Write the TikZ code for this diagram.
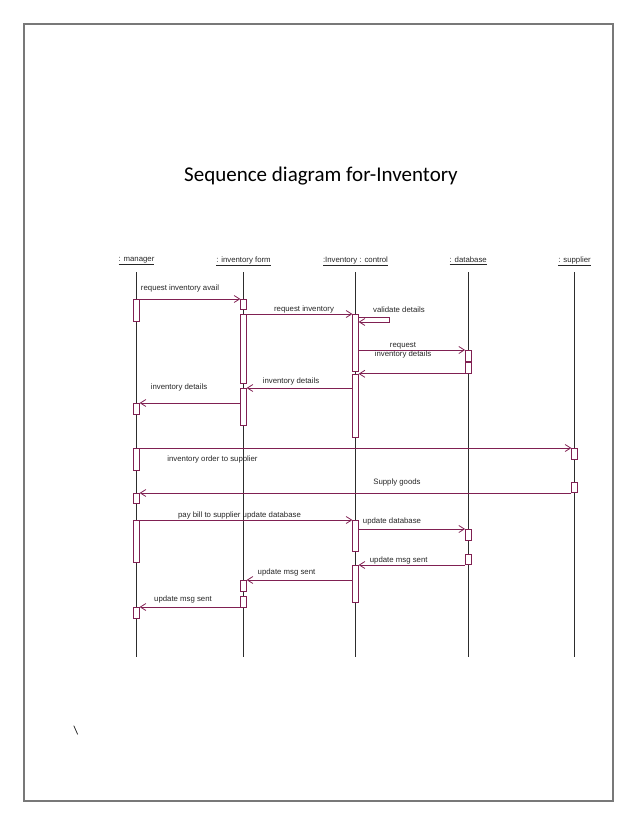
\documentclass[tikz,border=0pt]{standalone}
\usepackage{fontspec}
\setmainfont{Carlito}
\newfontfamily\arialf{Liberation Sans}
\usetikzlibrary{arrows.meta}
\definecolor{maroon}{RGB}{128,32,82}
\definecolor{lifegray}{RGB}{45,45,45}
\definecolor{framegray}{RGB}{120,120,120}
\begin{document}
\begin{tikzpicture}[x=1pt,y=-1pt,
  actbox/.style={draw=maroon,fill=white,line width=0.8pt,minimum width=5.5pt,inner sep=0pt,anchor=north},
  msg/.style={draw=maroon,line width=0.8pt,-{Straight Barb[length=5.5pt,width=7pt]}},
  life/.style={draw=lifegray,line width=0.8pt},
  lbl/.style={inner sep=0pt,text=black!85,font=\arialf\fontsize{7.8}{9}\selectfont,align=center},
  hdr/.style={inner sep=0pt,text=black!85,font=\arialf\fontsize{7.8}{9}\selectfont}]
\useasboundingbox (0,0) rectangle (638,826);
\draw[framegray,line width=1.2pt] (24,24) rectangle (613,801);
\node[font=\fontsize{21}{25}\selectfont] (title) at (321,176) {Sequence diagram for-Inventory};
\node[font=\fontsize{12}{14}\selectfont] (bs) at (76,731) {\textbackslash};
% headers
\node[hdr] (hm) at (136.5,261) {\underline{: manager}};
\node[hdr] (hf) at (243.5,261) {\underline{: inventory form}};
\node[hdr] (hc) at (355.5,261) {\underline{:Inventory : control}};
\node[hdr] (hd) at (468.2,261) {\underline{: database}};
\node[hdr] (hs) at (574.5,261) {\underline{: supplier}};
% lifelines
\coordinate (tm) at (136.5,272); \coordinate (bm) at (136.5,657);
\coordinate (tf) at (243.5,272); \coordinate (bf) at (243.5,657);
\coordinate (tc) at (355.5,272); \coordinate (bc) at (355.5,657);
\coordinate (td) at (468.2,272); \coordinate (bd) at (468.2,657);
\coordinate (ts) at (574.5,272); \coordinate (bs2) at (574.5,657);
\draw[life] (tm) -- (bm);
\draw[life] (tf) -- (bf);
\draw[life] (tc) -- (bc);
\draw[life] (td) -- (bd);
\draw[life] (ts) -- (bs2);
% activation boxes
\node[actbox,minimum height=22pt] (m1) at (136.5,299) {};
\node[actbox,minimum height=11pt] (m2) at (136.5,403) {};
\node[actbox,minimum height=22pt] (m3) at (136.5,448) {};
\node[actbox,minimum height=10pt] (m4) at (136.5,493) {};
\node[actbox,minimum height=42pt] (m5) at (136.5,520) {};
\node[actbox,minimum height=11pt] (m6) at (136.5,607) {};
\node[actbox,minimum height=10pt] (f1) at (243.5,299) {};
\node[actbox,minimum height=69pt] (f2) at (243.5,314) {};
\node[actbox,minimum height=37pt] (f3) at (243.5,388) {};
\node[actbox,minimum height=11pt] (f4) at (243.5,580) {};
\node[actbox,minimum height=11pt] (f5) at (243.5,596) {};
\node[actbox,minimum height=57pt] (c1) at (355.5,314) {};
\node[actbox,minimum height=63pt] (c2) at (355.5,374) {};
\node[actbox,minimum height=31pt] (c3) at (355.5,520) {};
\node[actbox,minimum height=37pt] (c4) at (355.5,565) {};
\node[actbox,minimum height=11pt] (d1) at (468.2,350) {};
\node[actbox,minimum height=11pt] (d2) at (468.2,362) {};
\node[actbox,minimum height=11pt] (d3) at (468.2,529) {};
\node[actbox,minimum height=10pt] (d4) at (468.2,554) {};
\node[actbox,minimum height=11pt] (s1) at (574.5,448) {};
\node[actbox,minimum height=10pt] (s2) at (574.5,482) {};
% messages
\draw[msg] (m1.north east) -- (f1.north west);
\draw[msg] (f2.north east) -- (c1.north west);
\draw[msg] ([yshift=-3.5pt]c1.north east) -- ++(30.5,0) -- ++(0,4.5) -- ([yshift=-8pt]c1.north east);
\draw[msg] (c1.east |- d1.north) -- (d1.north west);
\draw[msg] (d2.south west) -- (c1.east |- d2.south);
\draw[msg] (c2.west |- f3.north) -- (f3.north east);
\draw[msg] (f3.west |- m2.north) -- (m2.north east);
\draw[msg] (m3.north east) -- (s1.north west);
\draw[msg] (s2.west |- m4.north) -- (m4.north east);
\draw[msg] (m5.north east) -- (c3.north west);
\draw[msg] (c3.east |- d3.north) -- (d3.north west);
\draw[msg] (d4.west |- c4.north) -- (c4.north east);
\draw[msg] (c4.west |- f4.north) -- (f4.north east);
\draw[msg] (f5.west |- m6.north) -- (m6.north east);
% labels
\node[lbl] (l1) at (180,288) {request inventory avail};
\node[lbl] (l2) at (304,309.5) {request inventory};
\node[lbl] (l3) at (399,310) {validate details};
\node[lbl] (l4) at (403,350) {request\\inventory details};
\node[lbl] (l5) at (291,381) {inventory details};
\node[lbl] (l6) at (179,387) {inventory details};
\node[lbl] (l7) at (212.5,459.5) {inventory order to supplier};
\node[lbl] (l8) at (397,482) {Supply goods};
\node[lbl] (l9) at (239.5,515) {pay bill to supplier update database};
\node[lbl] (l10) at (392,521) {update database};
\node[lbl] (l11) at (398.7,560) {update msg sent};
\node[lbl] (l12) at (286.5,572.7) {update msg sent};
\node[lbl] (l13) at (183,599) {update msg sent};
\end{tikzpicture}
\end{document}
